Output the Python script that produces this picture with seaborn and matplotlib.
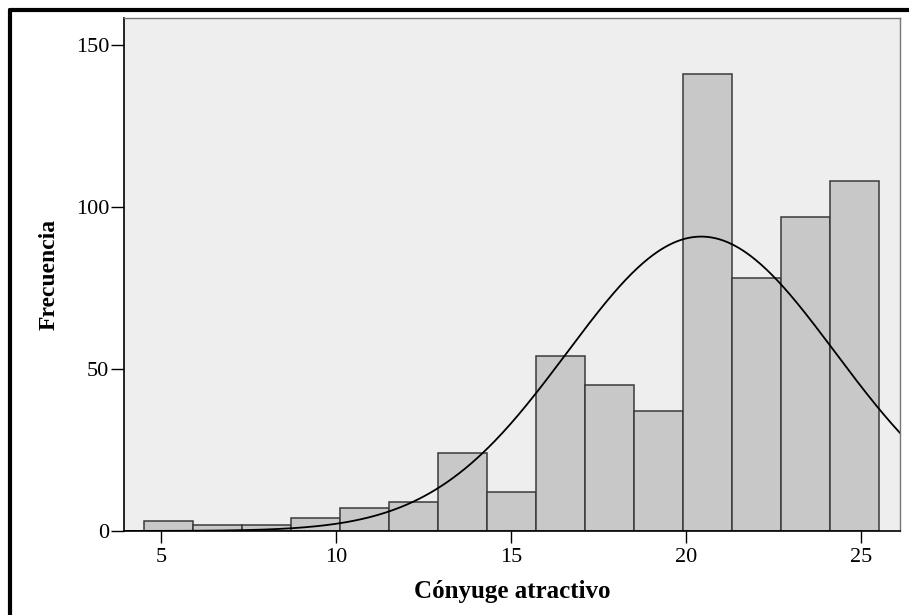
import numpy as np
import pandas as pd
import matplotlib
matplotlib.use("Agg")
import matplotlib.pyplot as plt
import seaborn as sns
from matplotlib.lines import Line2D

# ---- data ----
bin_edges = [4.5, 5.9, 7.3, 8.7, 10.1, 11.5, 12.9, 14.3, 15.7, 17.1, 18.5, 19.9, 21.3, 22.7, 24.1, 25.5]
bin_centers = [5.2, 6.6, 8.0, 9.4, 10.8, 12.2, 13.6, 15.0, 16.4, 17.8, 19.2, 20.6, 22.0, 23.4, 24.8]
frequencies = [3, 2, 2, 4, 7, 9, 24, 12, 54, 45, 37, 141, 78, 97, 108]
x_ticks = [5, 10, 15, 20, 25]
y_ticks = [0, 50, 100, 150]
curve_mean = 20.42
curve_sd = 3.83
x_label = "Cónyuge atractivo"
y_label = "Frecuencia"

sns.set_theme(style="white")
plt.rcParams['font.family'] = ['Liberation Serif', 'DejaVu Serif']
plt.rcParams['text.color'] = 'black'
plt.rcParams['axes.labelcolor'] = 'black'
plt.rcParams['xtick.color'] = 'black'
plt.rcParams['ytick.color'] = 'black'

W, H, DPI = 909, 615, 100
fig = plt.figure(figsize=(W / DPI, H / DPI), dpi=DPI, facecolor="white")
ax = fig.add_axes([124 / W, 1 - 531 / H, (900 - 124) / W, (531 - 18) / H])
ax.set_facecolor("#EEEEEE")

df = pd.DataFrame({"x": bin_centers, "n": frequencies})
sns.histplot(data=df, x="x", weights="n", bins=bin_edges, ax=ax,
             color="#C8C8C8", edgecolor="#3A3A3A", linewidth=1.1, alpha=1.0)

# normal curve scaled to counts
N = sum(frequencies)
bw = bin_edges[1] - bin_edges[0]
xs = np.linspace(3.9, 26.2, 400)
ys = N * bw / (curve_sd * np.sqrt(2 * np.pi)) * np.exp(-0.5 * ((xs - curve_mean) / curve_sd) ** 2)
sns.lineplot(x=xs, y=ys, color="black", linewidth=1.3, ax=ax)

ax.set_xlim(3.93, 26.1)
ax.set_ylim(0, 158.3)
ax.set_xticks(x_ticks)
ax.set_yticks(y_ticks)
ax.set_xticklabels([str(t) for t in x_ticks])
ax.set_yticklabels([str(t) for t in y_ticks])

ax.tick_params(axis="y", direction="out", length=9.5, width=1.0, pad=1, labelsize=16, labelcolor="black", left=True)
ax.tick_params(axis="x", direction="out", length=8.5, width=1.0, pad=4, labelsize=16, labelcolor="black", bottom=True)

for side in ["left", "bottom"]:
    ax.spines[side].set_color("black")
    ax.spines[side].set_linewidth(1.2)
for side in ["top", "right"]:
    ax.spines[side].set_color("#777777")
    ax.spines[side].set_linewidth(1.0)

ax.set_xlabel(x_label, fontsize=18, fontweight="bold", labelpad=9, color="black")
ax.set_ylabel(y_label, fontsize=17, fontweight="bold", labelpad=12, color="black")

# figure frame (left and top black border)
fig.add_artist(Line2D([10 / W, 10 / W], [0, 1 - 10 / H], transform=fig.transFigure, color="black", linewidth=3))
fig.add_artist(Line2D([10 / W, 1], [1 - 10 / H, 1 - 10 / H], transform=fig.transFigure, color="black", linewidth=3))

fig.savefig("out.png", dpi=DPI, facecolor="white")
